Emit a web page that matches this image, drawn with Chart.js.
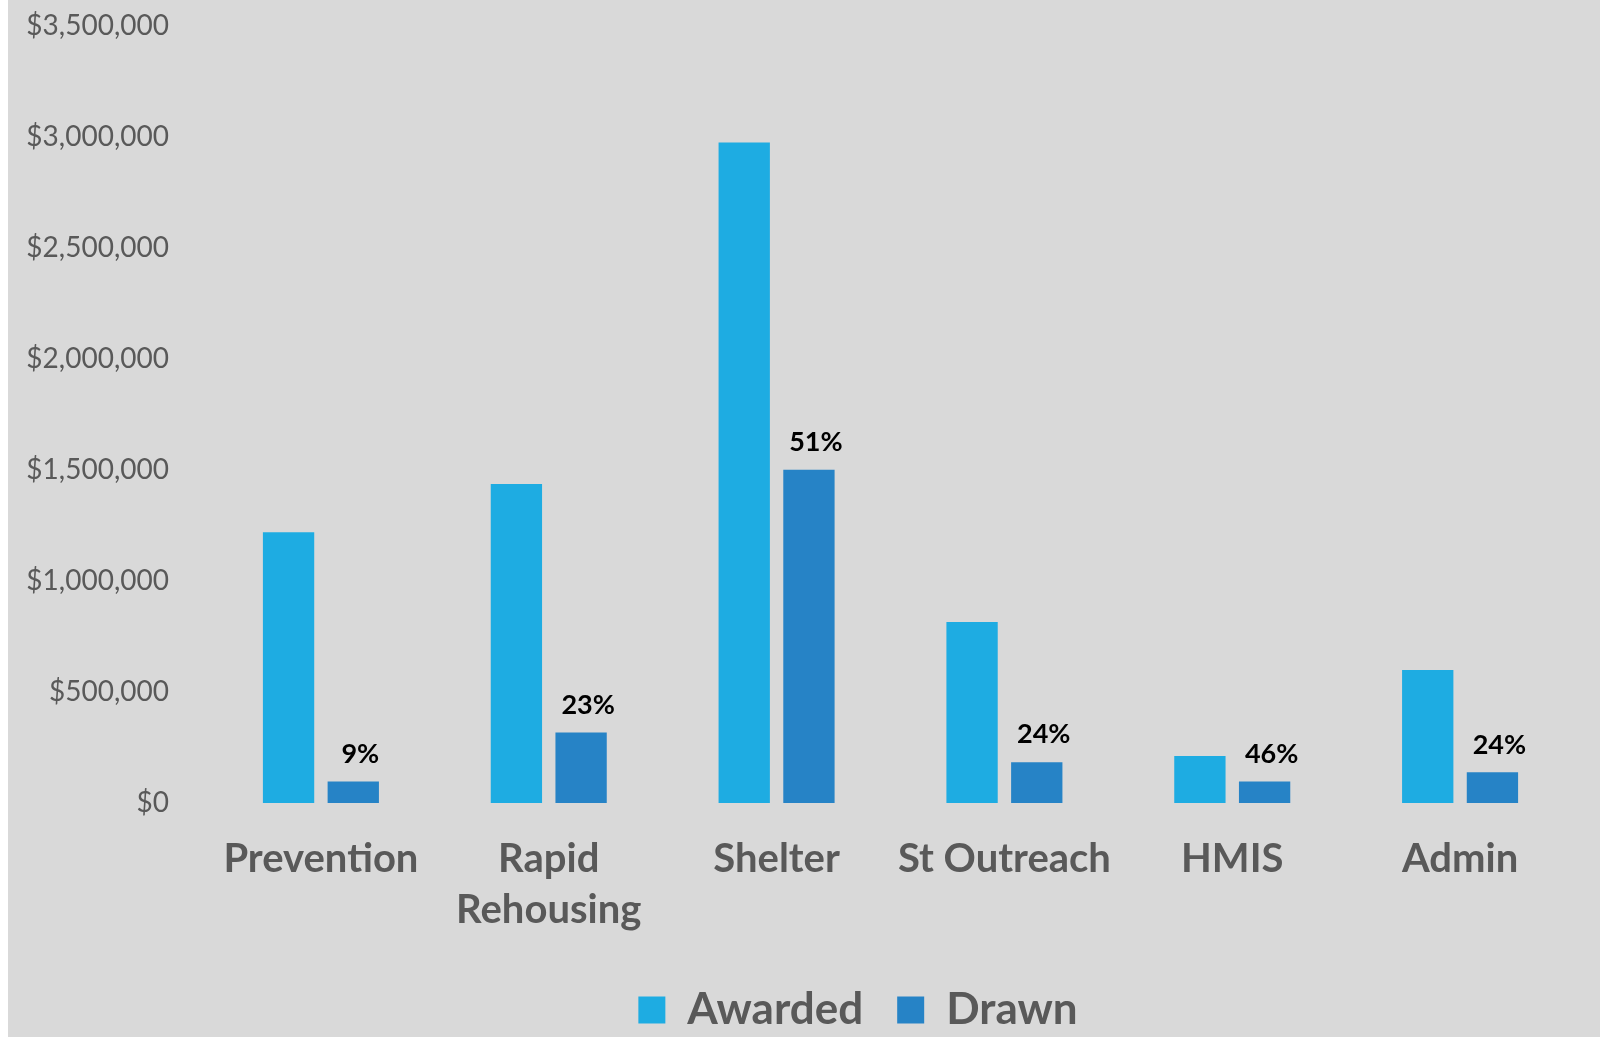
<!DOCTYPE html>
<html>
<head>
<meta charset="utf-8">
<script src="https://cdn.jsdelivr.net/npm/chart.js@4/dist/chart.umd.min.js"></script>
<style>
  html, body { margin: 0; padding: 0; background: #ffffff; }
  #wrap { position: absolute; left: 8px; top: 0; width: 1592px; height: 1037px; background: #d9d9d9; }
</style>
</head>
<body>
<div id="wrap"><canvas id="grantchart"></canvas></div>
<script>
// data
var categories = ["Prevention", ["Rapid", "Rehousing"], "Shelter", "St Outreach", "HMIS", "Admin"];
var awarded = [1220000, 1437000, 2975000, 815000, 212000, 599000];
var drawn = [97000, 318000, 1501000, 184000, 97000, 138000];
var drawnPct = ["9%", "23%", "51%", "24%", "46%", "24%"];
var yTicks = [0, 500000, 1000000, 1500000, 2000000, 2500000, 3000000, 3500000];

var textGray = "#595959";

// draws the percent labels above the Drawn bars
var pctLabels = {
  id: "pctLabels",
  afterDatasetsDraw: function (chart) {
    var ctx = chart.ctx;
    var meta = chart.getDatasetMeta(1);
    ctx.save();
    ctx.font = "bold 27px Lato";
    ctx.fillStyle = "#000000";
    ctx.textAlign = "center";
    ctx.textBaseline = "bottom";
    for (var i = 0; i < meta.data.length; i++) {
      var bar = meta.data[i];
      ctx.fillText(drawnPct[i], bar.x + 7, bar.y - 14);
    }
    ctx.restore();
  }
};

// legend in the original sits right of the canvas centre
var legendShift = {
  id: "legendShift",
  afterLayout: function (chart) {
    chart.legend.left += 54;
    chart.legend.right += 54;
    chart.legend.top += 5;
    chart.legend.bottom += 5;
  }
};

var ctx = document.getElementById("grantchart").getContext("2d");
var GrantChart = new Chart(ctx, {
  type: "bar",
  data: {
    labels: categories,
    datasets: [
      {
        label: "Awarded",
        backgroundColor: "#1eace2",
        data: awarded
      },
      {
        label: "Drawn",
        backgroundColor: "#2683c6",
        data: drawn
      }
    ]
  },
  options: {
    responsive: true,
    maintainAspectRatio: false,
    animation: false,
    categoryPercentage: 0.568,
    barPercentage: 0.793,
    layout: {
      padding: { left: 0, right: 0, top: 26, bottom: 0 }
    },
    plugins: {
      tooltip: { enabled: false },
      legend: {
        position: "bottom",
        labels: {
          color: textGray,
          font: { family: "Lato", size: 44, weight: "bold" },
          boxWidth: 27,
          boxHeight: 27,
          padding: 34
        }
      }
    },
    scales: {
      x: {
        grid: { display: false, drawTicks: false },
        border: { display: false },
        ticks: {
          color: textGray,
          padding: 31,
          maxRotation: 0,
          autoSkip: false,
          font: { family: "Lato", size: 40, weight: "bold", lineHeight: 1.27 }
        },
        afterFit: function (scale) {
          scale.height = 146;
          scale.paddingLeft = 0;
          scale.paddingRight = 0;
        }
      },
      y: {
        min: 0,
        max: 3500000,
        grid: { display: false, drawTicks: false },
        border: { display: false },
        afterBuildTicks: function (scale) {
          scale.ticks = yTicks.map(function (v) { return { value: v }; });
        },
        ticks: {
          color: textGray,
          padding: 38,
          font: { family: "Lato", size: 28 },
          callback: function (v) { return "$" + Number(v).toLocaleString("en-US"); }
        },
        afterFit: function (scale) {
          scale.width = 199;
          scale.paddingTop = 0;
          scale.paddingBottom = 0;
        }
      },
      yRight: {
        position: "right",
        grid: { display: false, drawTicks: false },
        border: { display: false },
        ticks: { display: false },
        afterFit: function (scale) {
          scale.width = 26;
          scale.paddingTop = 0;
          scale.paddingBottom = 0;
        }
      }
    }
  },
  plugins: [pctLabels, legendShift]
});
</script>
</body>
</html>
